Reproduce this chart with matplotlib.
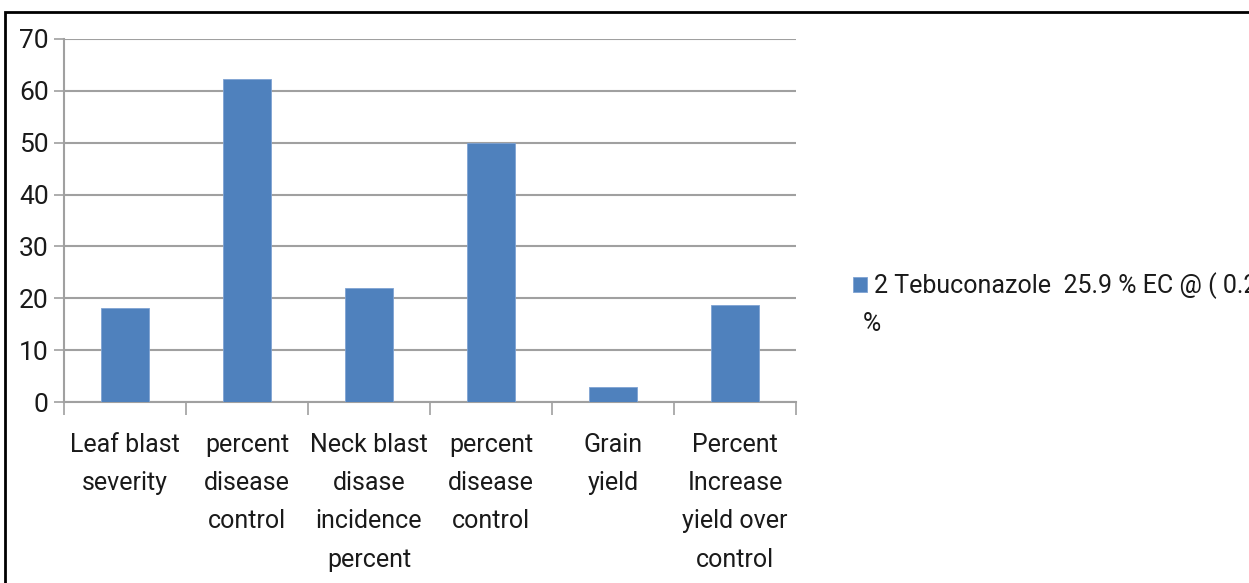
import numpy as np
import matplotlib.pyplot as plt
from matplotlib.patches import Rectangle

categories = ["Leaf blast\nseverity", "percent\ndisease\ncontrol", "Neck blast\ndisase\nincidence\npercent",
              "percent\ndisease\ncontrol", "Grain\nyield", "Percent\nIncrease\nyield over\ncontrol"]
values = [18.1, 62.3, 22.0, 50.0, 3.0, 18.7]
series_label = "2 Tebuconazole  25.9 % EC @ ( 0.2"
series_label_2 = "%"
yticks = [0, 10, 20, 30, 40, 50, 60, 70]

plt.rcParams['font.family'] = ['Roboto', 'DejaVu Sans']

def main():
    fig = plt.figure(figsize=(12.49, 5.83), dpi=100)
    ax = fig.add_axes([0.0512, 0.31, 0.5861, 0.6236])

    x = np.arange(len(values))
    bars = ax.bar(x, values, width=0.39, color="#4F81BD", edgecolor="#7fa3d3", linewidth=0.6,
                  label=series_label, zorder=3)

    ax.set_xlim(-0.5, len(values) - 0.5)
    ax.set_ylim(0, 70)
    ax.set_yticks(yticks)
    ax.set_yticklabels([str(v) for v in yticks], fontsize=19, color="#1a1a1a")
    ax.yaxis.grid(True, color="#a0a0a0", linewidth=1.5, zorder=0)

    # category labels centred, ticks at the boundaries
    ax.set_xticks(x)
    ax.set_xticklabels(categories, fontsize=18, color="#1a1a1a", linespacing=1.75, va="top")
    ax.tick_params(axis="x", length=0, pad=22)
    ax.set_xticks(np.arange(len(values) + 1) - 0.5, minor=True)
    ax.tick_params(axis="x", which="minor", length=9, color="#a0a0a0", width=1.2)
    ax.tick_params(axis="y", length=7, color="#a0a0a0", width=1.2, pad=4)

    for s in ["top", "right"]:
        ax.spines[s].set_visible(False)
    for s in ["left", "bottom"]:
        ax.spines[s].set_color("#a0a0a0")
        ax.spines[s].set_linewidth(1.5)

    leg = fig.legend(handles=[bars], labels=[series_label], loc="center left",
                     bbox_to_anchor=(0.665, 1 - 286 / 583), frameon=False, fontsize=18,
                     handlelength=0.55, handleheight=0.55, handletextpad=0.3)
    for t in leg.get_texts():
        t.set_color("#1a1a1a")
    fig.text(863 / 1249, 1 - 324 / 583, series_label_2, fontsize=18, color="#1a1a1a", va="center")

    # outer frame, cut off by the right/bottom edge like the original
    fig.patches.append(Rectangle((5 / 1249, -0.05), 1.1, 1 - 12 / 583 + 0.05,
                                 transform=fig.transFigure, fill=False,
                                 edgecolor="black", linewidth=2))

    fig.savefig("out.png", dpi=100)

if __name__ == '__main__':
    main()
